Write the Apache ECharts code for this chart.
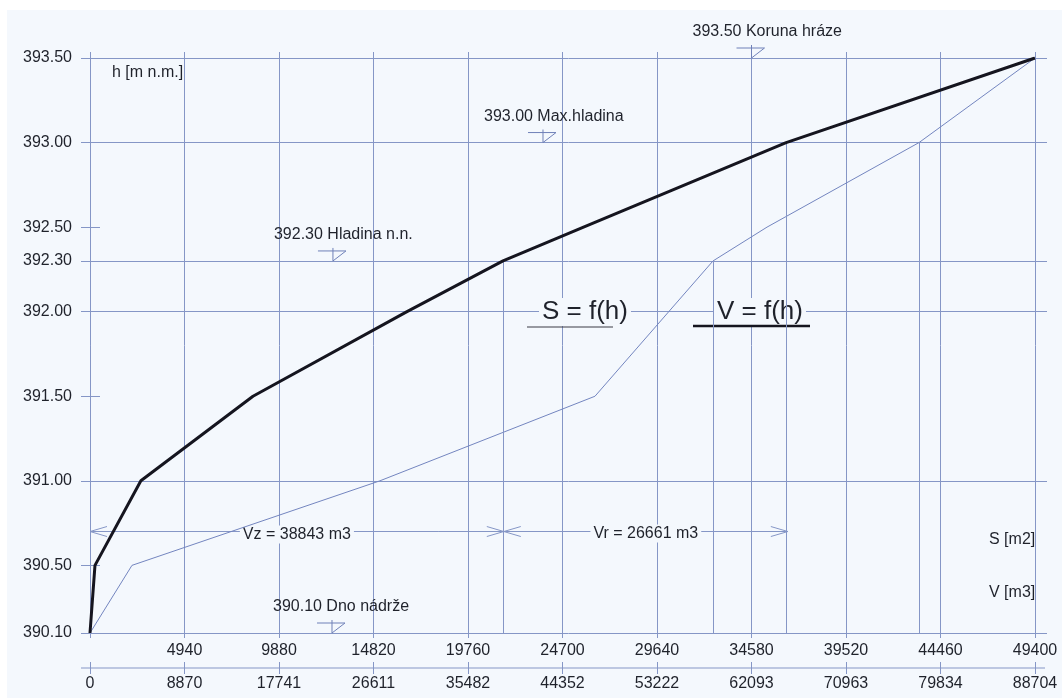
<!DOCTYPE html>
<html><head><meta charset="utf-8">
<script src="https://cdn.jsdelivr.net/npm/echarts@6/dist/echarts.min.js"></script>
<style>
html,body{margin:0;padding:0;background:#fff;}
#paper{position:absolute;left:7px;top:10px;width:1055px;height:688px;background:#f4f8fd;}
#chart{position:absolute;left:0;top:0;width:1062px;height:698px;}
</style></head><body>
<div id="paper"></div><div id="chart"></div>
<script>
// ---- data ----
const hLevelsS = [390.10, 390.50, 391.00, 391.50, 392.00, 392.30, 392.50, 393.00, 393.50];
const sArea    = [0, 260, 2660, 8520, 16570, 21590, 25800, 36390, 49400];
const hLevelsV = [390.10, 390.50, 391.00, 391.50, 392.30, 392.50, 393.00, 393.50];
const vVolume  = [0, 3940, 27220, 47400, 58480, 63550, 77820, 88704];

const sTickLabels = ['', '4940', '9880', '14820', '19760', '24700', '29640', '34580', '39520', '44460', '49400'];
const vTickLabels = ['0', '8870', '17741', '26611', '35482', '44352', '53222', '62093', '70963', '79834', '88704'];
const yTickValues = [390.10, 390.50, 391.00, 391.50, 392.00, 392.30, 392.50, 393.00, 393.50];
const yFullLines  = [390.10, 391.00, 392.00, 392.30, 393.00, 393.50];
const yShortTicks = [390.50, 391.50, 392.50];

const markLevels = [393.50, 393.00, 392.30, 390.10];
const markNames  = ['Koruna hráze', 'Max.hladina', 'Hladina n.n.', 'Dno nádrže'];
const markS      = [34580, 23680, 12700, 12650];

const vzValue = 38843;
const vrValue = 26661;
const arrowLevel = 390.70;
const dropLevels = [392.30, 393.00];

// ---- styling ----
const gridColor = '#8596c6';
const textColor = '#1f222b';
const fontFam = "'Liberation Sans', Arial, sans-serif";
const bg = '#f4f8fd';
const sStep = 4940, sMax = 49400, vStep = 8870.4, vMax = 88704;
const yMin = 390.10, yMax = 393.50;

const chart = echarts.init(document.getElementById('chart'), null, {renderer: 'canvas'});
const lblStyle = {color: textColor, fontSize: 16, fontFamily: fontFam};
const gl = {color: gridColor, width: 1};

const option = {
  animation: false,
  backgroundColor: 'transparent',
  textStyle: {fontFamily: fontFam},
  grid: {left: 90, top: 58, width: 945, height: 575},
  xAxis: [
    {type: 'value', min: 0, max: sMax, interval: sStep, position: 'bottom',
     axisLine: {show: false}, axisTick: {show: true, length: 5, lineStyle: gl},
     axisLabel: Object.assign({margin: 10, formatter: v => sTickLabels[Math.round(v / sStep)]}, lblStyle),
     splitLine: {show: true, lineStyle: gl}},
    {type: 'value', min: 0, max: vMax, interval: vStep, position: 'bottom', offset: 35,
     axisLine: {show: false}, axisTick: {show: true, length: 6, lineStyle: gl},
     axisLabel: Object.assign({margin: 8, formatter: v => vTickLabels[Math.round(v / vStep)]}, lblStyle),
     splitLine: {show: false}},
    {type: 'value', min: 0, max: sMax, interval: sStep, position: 'top',
     axisLine: {show: false}, axisTick: {show: true, length: 6, lineStyle: gl},
     axisLabel: {show: false}, splitLine: {show: false}},
    {type: 'value', min: 0, max: vMax, interval: vStep, position: 'bottom', offset: 35,
     axisLine: {show: false}, axisTick: {show: true, inside: true, length: 6, lineStyle: gl},
     axisLabel: {show: false}, splitLine: {show: false}}
  ],
  yAxis: [
    {type: 'value', min: yMin, max: yMax, position: 'left',
     axisLine: {show: true, lineStyle: gl},
     axisTick: {show: true, length: 9, customValues: yTickValues, lineStyle: gl},
     axisLabel: Object.assign({customValues: yTickValues, margin: 18, formatter: v => v.toFixed(2)}, lblStyle),
     splitLine: {show: false}},
    {type: 'value', min: yMin, max: yMax, position: 'left',
     axisLine: {show: false},
     axisTick: {show: true, inside: true, length: 10, customValues: yShortTicks, lineStyle: gl},
     axisLabel: {show: false}, splitLine: {show: false}},
    {type: 'value', min: yMin, max: yMax, position: 'left',
     axisLine: {show: false},
     axisTick: {show: true, inside: true, length: 957, customValues: yFullLines, lineStyle: gl},
     axisLabel: {show: false}, splitLine: {show: false}}
  ],
  series: [
    {name: 'S = f(h)', type: 'line', xAxisIndex: 0, yAxisIndex: 0, symbol: 'none', z: 5,
     data: hLevelsS.map((h, i) => [sArea[i], h]),
     lineStyle: {color: '#15151f', width: 3},
     markLine: {silent: true, symbol: 'none', label: {show: false}, lineStyle: {color: gridColor, width: 1, type: 'solid'},
       data: dropLevels.map(h => { const s = sArea[hLevelsS.indexOf(h)]; return [{coord: [s, h]}, {coord: [s, yMin]}]; })}},
    {name: 'V = f(h)', type: 'line', xAxisIndex: 1, yAxisIndex: 0, symbol: 'none', z: 4,
     data: hLevelsV.map((h, i) => [vVolume[i], h]),
     lineStyle: {color: '#7385bf', width: 1},
     markLine: {silent: true, symbol: 'none', label: {show: false}, lineStyle: {color: gridColor, width: 1, type: 'solid'},
       data: dropLevels.map(h => { const v = vVolume[hLevelsV.indexOf(h)]; return [{coord: [v, h]}, {coord: [v, yMin]}]; })}}
  ]
};
chart.setOption(option);

// ---- annotations positioned through the axes ----
const pxS = v => chart.convertToPixel({xAxisIndex: 0}, v);
const pxV = v => chart.convertToPixel({xAxisIndex: 1}, v);
const py  = h => chart.convertToPixel({yAxisIndex: 0}, h);
const f16 = "16px " + fontFam;
const f26 = "26px " + fontFam;
const g = [];
function txt(text, x, y, font, align, masked) {
  const st = {text: text, x: x, y: y, fill: textColor, font: font, align: align || 'left', verticalAlign: 'middle'};
  if (masked) { st.backgroundColor = bg; st.padding = [1, 3]; }
  g.push({type: 'text', z: 1, silent: true, style: st});
}
function line(x1, y1, x2, y2, color, w) {
  g.push({type: 'line', z: 1, silent: true, shape: {x1, y1, x2, y2}, style: {stroke: color, lineWidth: w}});
}
function poly(pts, color, w) {
  g.push({type: 'polyline', z: 1, silent: true, shape: {points: pts}, style: {stroke: color, lineWidth: w, fill: null}});
}

// V axis baseline
const yb = py(yMin) + 35;
line(pxV(0) - 9, yb, pxV(vMax) + 10, yb, gridColor, 1);

// Vz / Vr arrows
const ya = py(arrowLevel);
const x0 = pxV(0), x1 = pxV(vzValue), x2 = pxV(vzValue + vrValue);
line(x0, ya, x2, ya, gridColor, 1);
const al = 17, aw = 5;
poly([[x0 + al, ya - aw], [x0, ya], [x0 + al, ya + aw]], gridColor, 1);
poly([[x1 - al, ya - aw], [x1, ya], [x1 - al, ya + aw]], gridColor, 1);
poly([[x1 + al, ya - aw], [x1, ya], [x1 + al, ya + aw]], gridColor, 1);
poly([[x2 - al, ya - aw], [x2, ya], [x2 - al, ya + aw]], gridColor, 1);
txt('Vz = ' + vzValue + ' m3', (x0 + x1) / 2, ya + 3, f16, 'center', true);
txt('Vr = ' + vrValue + ' m3', (x1 + x2) / 2, ya + 2, f16, 'center', true);

// water level signs
markLevels.forEach((h, i) => {
  const tx = pxS(markS[i]), ty = py(h);
  poly([[tx - 15, ty - 10], [tx + 13, ty - 10], [tx, ty]], '#6f80b8', 1);
  line(tx, ty - 13, tx, ty, '#6f80b8', 1);
  txt(h.toFixed(2) + ' ' + markNames[i], tx - 59, ty - 26, f16, 'left', false);
});

// axis names and curve titles
txt('h [m n.m.]', 112, 73, f16, 'left', false);
txt('S [m2]', 989, 540, f16, 'left', false);
txt('V [m3]', 989, 593, f16, 'left', false);
txt('S = f(h)', 539, 312, f26, 'left', true);
line(527, 327, 613, 327, '#3a3a44', 1);
txt('V = f(h)', 714, 312, f26, 'left', true);
line(693, 326, 810, 326, '#15151f', 2.5);

chart.setOption({graphic: {elements: g}});
</script>
</body></html>
